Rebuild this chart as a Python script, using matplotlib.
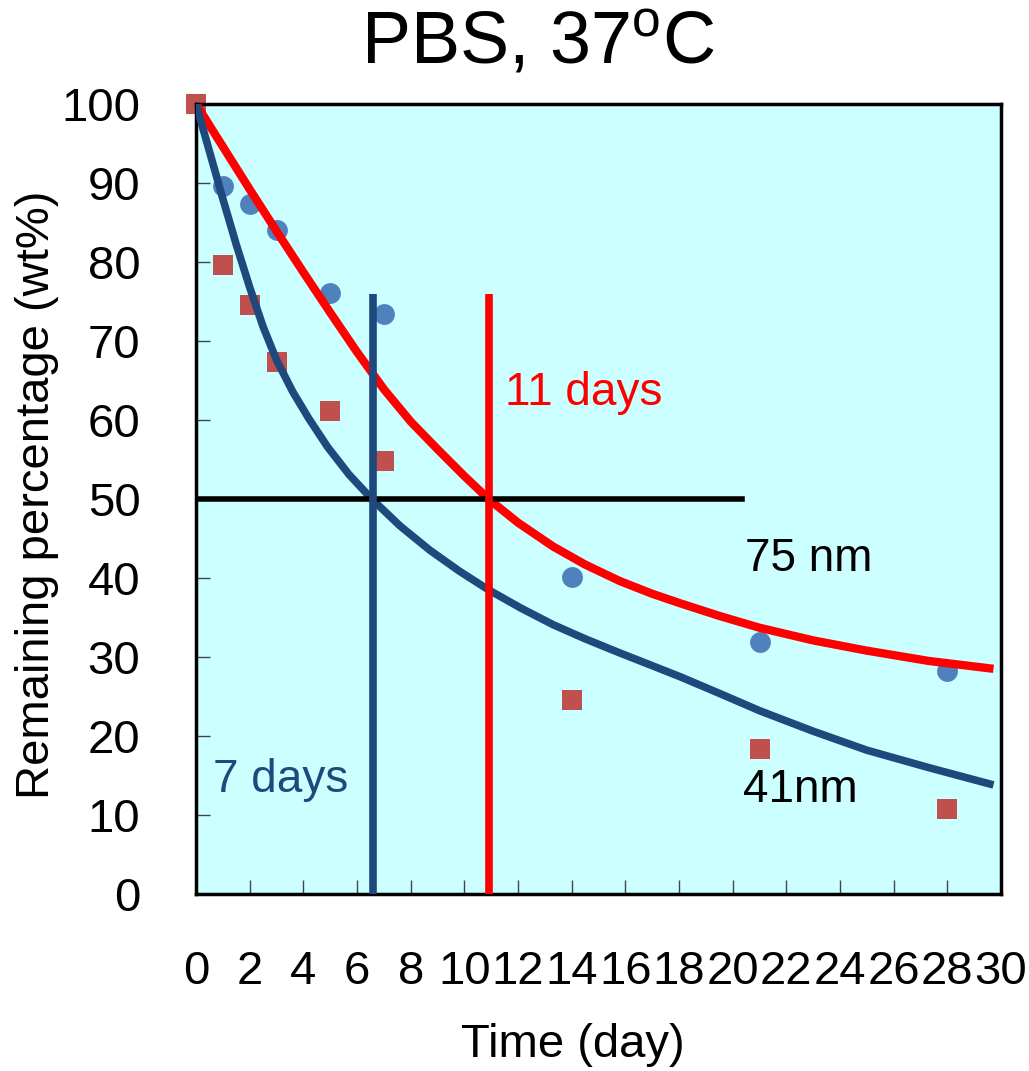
import matplotlib
matplotlib.use("Agg")
import matplotlib.pyplot as plt

plt.rcParams["font.family"] = ["Liberation Sans", "DejaVu Sans"]
plt.rcParams["mathtext.default"] = "regular"

# measured points
days = [1, 2, 3, 5, 7, 14, 21, 28]
nm75_pts = [89.6, 87.4, 84.0, 76.1, 73.4, 40.1, 31.9, 28.2]
days41 = [0, 1, 2, 3, 5, 7, 14, 21, 28]
nm41_pts = [100, 79.6, 74.5, 67.4, 61.1, 54.8, 24.6, 18.3, 10.8]

# fitted curves
fit75_t = [0, 1.0, 2.0, 3.0, 4.0, 5.0, 6.0, 7.0, 8.0, 9.0, 10.0, 10.9, 12.0,
           13.3, 14.5, 15.8, 17.0, 18.04, 19.5, 21.0, 23.0, 25.0, 27.3, 29.72]
fit75_y = [100, 94.6, 89.2, 83.9, 78.7, 73.6, 68.6, 63.9, 59.8, 56.3, 52.9, 50.0, 47.0,
           44.0, 41.7, 39.6, 38.0, 36.8, 35.2, 33.7, 32.1, 30.8, 29.5, 28.5]
fit41_t = [0, 0.5, 1.0, 1.5, 2.0, 2.5, 3.0, 3.6, 4.2, 4.9, 5.7, 6.55, 7.6, 8.72,
           9.8, 10.9, 12.1, 13.3, 14.5, 15.8, 17.0, 18.04, 19.5, 21.0, 23.0, 25.0, 27.3, 29.72]
fit41_y = [100, 94.0, 88.0, 82.2, 76.8, 71.8, 67.6, 63.6, 60.2, 56.6, 53.1, 50.0, 46.6, 43.5,
           40.9, 38.5, 36.2, 34.1, 32.3, 30.5, 28.9, 27.5, 25.4, 23.2, 20.6, 18.2, 16.0, 13.8]

half_life = [6.58, 10.93]
half_top = 76
half_line_end = 20.35

dark_blue = "#1F497D"

fig = plt.figure(figsize=(10.29, 10.71), dpi=100)
ax = fig.add_axes([0.1905, 0.1653, 0.7823, 0.7376])
ax.set_facecolor("#CCFFFF")

ax.plot(days, nm75_pts, "o", color="#4F81BD", markersize=15, mew=0, zorder=2, clip_on=False)
ax.plot(days41, nm41_pts, "s", color="#C0504D", markersize=15, mew=0, zorder=2, clip_on=False)

ax.plot(fit75_t, fit75_y, color="#FF0000", lw=6, solid_capstyle="butt", zorder=3)
ax.plot(fit41_t, fit41_y, color=dark_blue, lw=5.5, solid_capstyle="butt", zorder=3)

ax.plot([0, half_line_end], [50, 50], color="black", lw=4, zorder=3)
ax.plot([half_life[0]] * 2, [0, half_top], color=dark_blue, lw=5.5, solid_capstyle="butt", zorder=3)
ax.plot([half_life[1]] * 2, [0, half_top], color="#FF0000", lw=5.5, solid_capstyle="butt", zorder=3)

ax.text(11.5, 61.9, "11 days", color="#FF0000", fontsize=33, va="baseline")
ax.text(0.62, 12.9, "7 days", color=dark_blue, fontsize=33, va="baseline")
ax.text(20.45, 40.9, "75 nm", color="black", fontsize=33, va="baseline")
ax.text(20.4, 11.7, "41nm", color="black", fontsize=33, va="baseline")

ax.set_xlim(0, 30)
ax.set_ylim(0, 100)
ax.set_xticks(range(0, 31, 2))
ax.set_yticks(range(0, 101, 10))
ax.tick_params(direction="in", length=10, width=1, color="#444444", labelsize=34, pad=0)
ax.tick_params(axis="x", pad=40)
ax.tick_params(axis="y", pad=40)
for s in ax.spines.values():
    s.set_linewidth(2.5)

fig.text(0.523, 0.941, "PBS, 37$^{o}$C", fontsize=53, ha="center", va="baseline")
fig.text(0.036, 0.538, "Remaining percentage (wt%)", fontsize=34, rotation=90, ha="center", va="center")
fig.text(0.557, 0.024, "Time (day)", fontsize=34, ha="center", va="center")

fig.savefig("out.png", dpi=100)
